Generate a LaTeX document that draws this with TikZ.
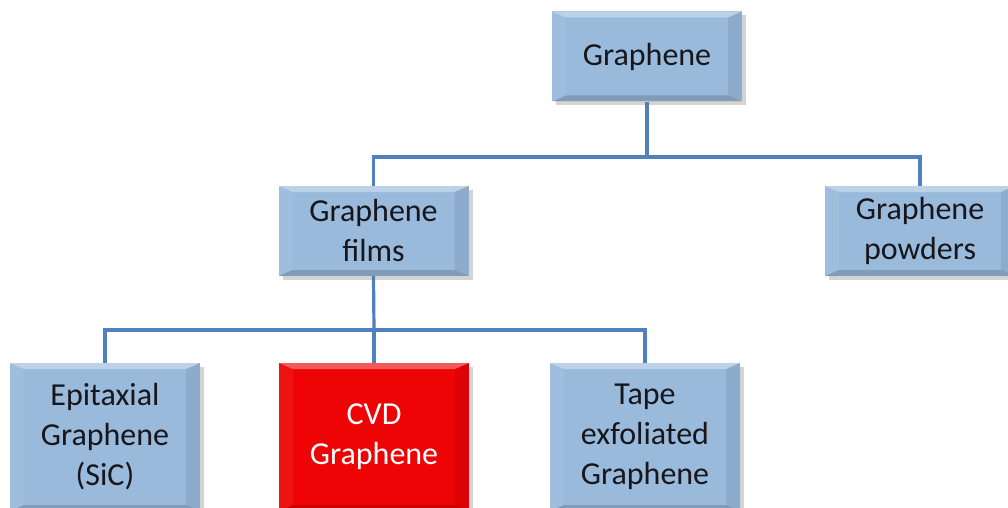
\documentclass[tikz,border=0pt]{standalone}
\usepackage{fontspec}
\setmainfont{Carlito}
\usetikzlibrary{shadows}
\definecolor{boxblue}{RGB}{154,186,220}
\definecolor{boxred}{RGB}{238,4,4}
\definecolor{linkblue}{RGB}{79,129,189}
\definecolor{ink}{RGB}{22,22,28}
\tikzset{
  bevelbox/.style={
    rectangle, fill=#1, minimum width=190pt, inner sep=0pt,
    align=center, text=ink, font=\fontsize{32}{40}\selectfont,
    drop shadow={shadow xshift=4pt, shadow yshift=-4pt, opacity=0.3, fill=black!55},
    path picture={
      \coordinate (bnw) at (path picture bounding box.north west);
      \coordinate (bne) at (path picture bounding box.north east);
      \coordinate (bsw) at (path picture bounding box.south west);
      \coordinate (bse) at (path picture bounding box.south east);
      \coordinate (inw) at ([xshift=14pt,yshift=-6pt]bnw);
      \coordinate (ine) at ([xshift=-14pt,yshift=-6pt]bne);
      \coordinate (isw) at ([xshift=14pt,yshift=6pt]bsw);
      \coordinate (ise) at ([xshift=-14pt,yshift=6pt]bse);
      \fill[white, opacity=0.35] (bnw) -- (bne) -- (ine) -- (inw) -- cycle;
      \fill[white, opacity=0.06] (bnw) -- (inw) -- (isw) -- (bsw) -- cycle;
      \fill[black, opacity=0.08] (bne) -- (ine) -- (ise) -- (bse) -- cycle;
      \fill[black, opacity=0.16] (bsw) -- (isw) -- (ise) -- (bse) -- cycle;
    }
  },
  midbox/.style={bevelbox=boxblue, minimum height=90pt},
  leafbox/.style={bevelbox=#1, minimum height=148pt},
  link/.style={draw=linkblue, line width=3.2pt}
}
\begin{document}
\begin{tikzpicture}[x=1pt, y=-1pt]
  \clip (0,0) rectangle (1008,508);
  \fill[white] (0,0) rectangle (1008,508);

  % tree of graphene forms
  \node[midbox] (root) at (647,56.5) {Graphene};
  \node[midbox] (films) at (373.5,231) {Graphene\\films};
  \node[midbox] (powders) at (920,231) {Graphene\\powders};
  \node[leafbox=boxblue] (epi) at (105,437) {Epitaxial\\Graphene\\(SiC)};
  \node[leafbox=boxred, text=white] (cvd) at (374,437) {CVD\\Graphene};
  \node[leafbox=boxblue] (tape) at (645,437) {Tape\\exfoliated\\Graphene};

  % junctions of the connectors
  \coordinate (j1) at (647,157);
  \coordinate (j2) at (374,330);

  \draw[link] (root.south) -- (j1);
  \draw[link] (films.north) |- (j1);
  \draw[link] (powders.north) |- (j1);
  \draw[link] (films.south) -- (j2);
  \draw[link] (epi.north) |- (j2);
  \draw[link] (cvd.north) -- (j2);
  \draw[link] (tape.north) |- (j2);
\end{tikzpicture}
\end{document}
